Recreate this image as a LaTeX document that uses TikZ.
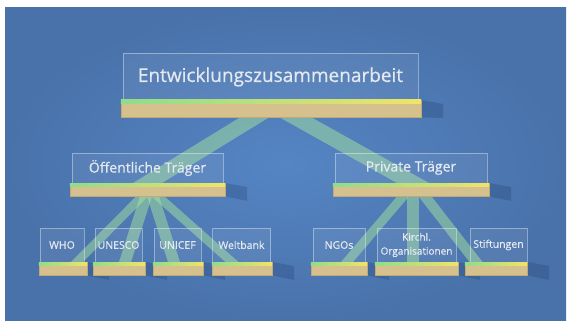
\documentclass[tikz,border=0pt]{standalone}
\usepackage{fontspec}
\setmainfont{Open Sans}
\newfontfamily\medfont[FakeBold=0.7]{Open Sans}
\usetikzlibrary{calc}
\pgfdeclarelayer{bg}
\pgfdeclarelayer{beamlayer}
\pgfsetlayers{bg,beamlayer,main}
\definecolor{bgin}{HTML}{5585C4}
\definecolor{bgout}{HTML}{4972AA}
\definecolor{beamc}{HTML}{A6E49E}
\definecolor{tan}{HTML}{D6C18E}
\definecolor{tandark}{HTML}{BFA975}
\definecolor{glowg}{HTML}{8FDC8C}
\definecolor{glowy}{HTML}{F0E468}
\definecolor{txt}{HTML}{E4E9F0}
\definecolor{shad}{HTML}{1F3E6E}
\tikzset{
  panel/.style={draw=white, draw opacity=0.38, line width=0.7pt, fill=white, fill opacity=0.07,
    text opacity=1, text=txt, inner sep=0pt, align=center},
  basebox/.style={fill=tan, draw=tandark, line width=0.4pt, inner sep=0pt, anchor=north},
  beam/.style={fill=beamc, fill opacity=0.5},
  glow/.style={left color=glowg, right color=glowy},
  shadowc/.style={fill=shad, fill opacity=0.28},
  bigtxt/.style={font=\medfont\fontsize{19}{22}\selectfont},
  midtxt/.style={font=\medfont\fontsize{14}{16}\selectfont},
  smalltxt/.style={font=\medfont\fontsize{10.5}{12}\selectfont},
}
\newcommand\beamlink[5]{%
  \fill[beam] ($(#1.south)+(#2-#5,0)$) -- ($(#1.south)+(#2+#5,0)$)
    -- ($(#3.north)+(#4+#5,0)$) -- ($(#3.north)+(#4-#5,0)$) -- cycle;}
\newcommand\glowstrip[2]{%
  \fill[glow] (#1.north west) rectangle ($(#1.north east)+(0,#2)$);}
\newcommand\baseshadow[1]{%
  \fill[shadowc] (#1.north east) -- ++(22,4) -- ++(0,14) -- (#1.south east) -- cycle;}
\begin{document}
\begin{tikzpicture}[x=1pt,y=-1pt]
\useasboundingbox (0,0) rectangle (569,323);
\begin{pgfonlayer}{bg}
  \fill[white] (0,0) rectangle (569,323);
  \shade[inner color=bgin, outer color=bgout] (5,8) rectangle (566,320);
\end{pgfonlayer}

% top
\node[panel, bigtxt, minimum width=295, minimum height=47] (top) at (270.5,77) {Entwicklungszusammenarbeit};
\node[basebox, minimum width=300, minimum height=17] (topb) at (271,100) {};

% middle
\node[panel, midtxt, minimum width=151, minimum height=30] (oef) at (147.5,168) {Öffentliche Träger};
\node[basebox, minimum width=155, minimum height=13] (oefb) at (147.5,183) {};
\node[panel, midtxt, minimum width=152, minimum height=30] (pri) at (411,168) {Private Träger};
\node[basebox, minimum width=156, minimum height=13] (prib) at (411,183) {};

% bottom
\node[panel, smalltxt, minimum width=44, minimum height=34] (who) at (62,245) {WHO};
\node[basebox, minimum width=48, minimum height=13] (whob) at (63,262) {};
\node[panel, smalltxt, minimum width=47, minimum height=34] (une) at (118.5,245) {UNESCO};
\node[basebox, minimum width=52, minimum height=13] (uneb) at (119,262) {};
\node[panel, smalltxt, minimum width=47, minimum height=34] (uni) at (177.5,245) {UNICEF};
\node[basebox, minimum width=50, minimum height=13] (unib) at (178,262) {};
\node[panel, smalltxt, minimum width=58, minimum height=34] (wel) at (241.5,245) {Weltbank};
\node[basebox, minimum width=60, minimum height=13] (welb) at (242,262) {};
\node[panel, smalltxt, minimum width=52, minimum height=34] (ngo) at (339,245) {NGOs};
\node[basebox, minimum width=56, minimum height=13] (ngob) at (339,262) {};
\node[panel, font=\medfont\fontsize{10}{14}\selectfont, minimum width=79, minimum height=34] (kir) at (416.5,245) {Kirchl.\\Organisationen};
\node[basebox, minimum width=83, minimum height=13] (kirb) at (416.5,262) {};
\node[panel, smalltxt, minimum width=57, minimum height=34] (sti) at (498.5,245) {Stiftungen};
\node[basebox, minimum width=62, minimum height=13] (stib) at (496,262) {};

\glowstrip{topb}{4}
\foreach \b in {oefb,prib,whob,uneb,unib,welb,ngob,kirb,stib} {\glowstrip{\b}{3}}

\begin{pgfonlayer}{bg}
  \foreach \b in {topb,oefb,prib,whob,uneb,unib,welb,ngob,kirb,stib} {\baseshadow{\b}}
\end{pgfonlayer}

\begin{pgfonlayer}{beamlayer}
  \beamlink{topb}{-16.5}{oefb}{0}{14.5}
  \beamlink{topb}{24.5}{prib}{2}{16}
  \beamlink{oefb}{-5.5}{whob}{14}{6}
  \beamlink{oefb}{-1.5}{uneb}{6}{6}
  \beamlink{oefb}{5.5}{unib}{-4}{6}
  \beamlink{oefb}{10.5}{welb}{-10}{6.5}
  \beamlink{prib}{-8}{ngob}{8}{6}
  \beamlink{prib}{2}{kirb}{-3.5}{6}
  \beamlink{prib}{14}{stib}{-20}{6.5}
\end{pgfonlayer}
\end{tikzpicture}
\end{document}
